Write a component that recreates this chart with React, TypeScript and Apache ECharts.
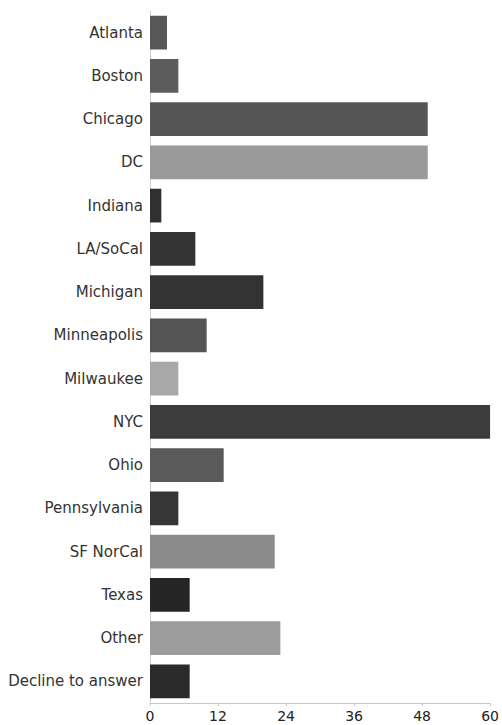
import React, { useEffect, useRef } from "react";
import * as echarts from "echarts";

const categories = [
  "Atlanta",
  "Boston",
  "Chicago",
  "DC",
  "Indiana",
  "LA/SoCal",
  "Michigan",
  "Minneapolis",
  "Milwaukee",
  "NYC",
  "Ohio",
  "Pennsylvania",
  "SF NorCal",
  "Texas",
  "Other",
  "Decline to answer",
];
const values = [3, 5, 49, 49, 2, 8, 20, 10, 5, 60, 13, 5, 22, 7, 23, 7];
const barColors = [
  "#575757",
  "#5c5c5c",
  "#555555",
  "#9a9a9a",
  "#303030",
  "#343434",
  "#333333",
  "#545454",
  "#a8a8a8",
  "#3c3c3c",
  "#5a5a5a",
  "#363636",
  "#8a8a8a",
  "#252525",
  "#9c9c9c",
  "#2a2a2a",
];
const xTicks = [0, 12, 24, 36, 48, 60];

export default function App() {
  const ref = useRef<HTMLDivElement>(null);
  useEffect(() => {
    if (!ref.current) return;
    const chart = echarts.init(ref.current, null, { renderer: "svg" });
    chart.setOption({
      animation: false,
      backgroundColor: "#ffffff",
      grid: { left: 150, right: 9, top: 11, bottom: 22, containLabel: false },
      xAxis: {
        type: "value",
        min: xTicks[0],
        max: xTicks[xTicks.length - 1],
        interval: 12,
        axisLine: { show: true, lineStyle: { color: "#c8c8c8", width: 1 } },
        axisTick: { show: true, length: 3, lineStyle: { color: "#c8c8c8" } },
        splitLine: { show: false },
        axisLabel: {
          color: "#222",
          fontSize: 14,
          fontFamily: "DejaVu Sans",
          margin: 6,
        },
      },
      yAxis: {
        type: "category",
        data: categories,
        inverse: true,
        axisLine: { show: true, lineStyle: { color: "#d0d0d0", width: 1 } },
        axisTick: { show: false },
        axisLabel: {
          color: "#333",
          fontSize: 15,
          fontFamily: "DejaVu Sans",
          margin: 7,
        },
      },
      series: [
        {
          type: "bar",
          data: values.map((v, i) => ({ value: v, itemStyle: { color: barColors[i] } })),
          barCategoryGap: "22%",
        },
      ],
    });
    return () => chart.dispose();
  }, []);
  return <div ref={ref} style={{ width: 502, height: 725, position: "absolute", left: 0, top: 0 }} />;
}
